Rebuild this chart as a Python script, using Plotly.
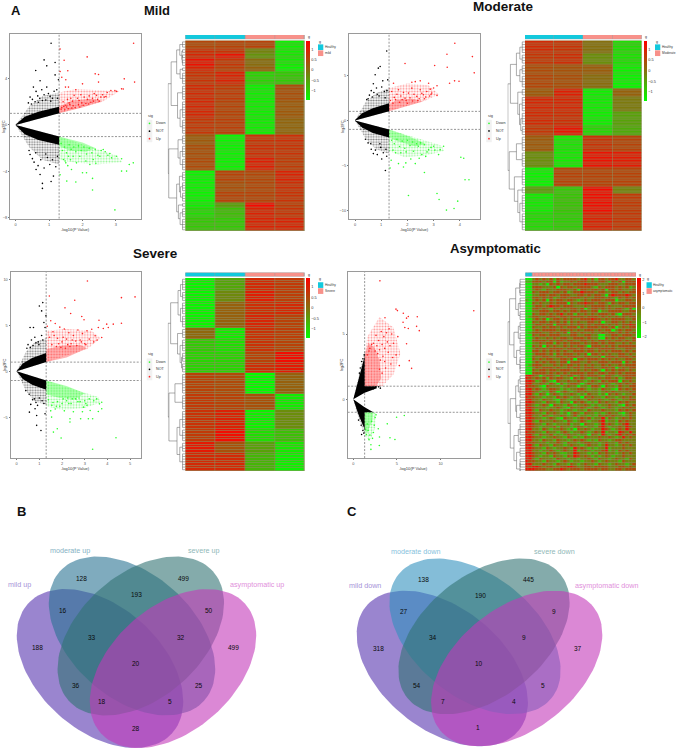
import math
import plotly.graph_objects as go

W, H = 676, 751

# ---------- Venn data ----------
venn_b_labels = ["mild up", "moderate up", "severe up", "asymptomatic up"]
venn_b_values = [188, 128, 499, 499, 16, 193, 50, 33, 32, 20, 36, 25, 18, 5, 28]
venn_c_labels = ["mild down", "moderate down", "severe down", "asymptomatic down"]
venn_c_values = [318, 138, 445, 37, 27, 190, 9, 34, 9, 10, 54, 5, 7, 4, 1]

# ---------- Volcano data ----------
mild_up_x = [3.53,2.14,1.33,1.45,1.56,1.33,2.38,2.48,3.25,3.56,2.48,2.0,1.5,1.38,1.49,1.58,1.8,3.17,3.22,3.02,2.85,2.97,2.74,2.6,2.55,2.42,2.3,2.35,2.2,2.15,2.05,1.95,1.9,1.85,1.75,1.7,1.65,1.6,1.55,1.5,1.42,1.38,2.45,2.65,2.25,2.1,1.98,1.88,1.72,1.62,1.52,1.44,1.36,2.7,2.5,2.33,2.18,2.02,1.92,1.78,1.68,1.58,1.47]
mild_up_y = [7.03,5.86,6.54,5.57,4.66,4.6,4.4,4.34,3.97,3.69,3.69,3.54,3.89,4.11,3.26,3.26,3.03,3.11,3.09,2.89,2.97,2.97,2.8,2.6,2.4,2.55,2.3,2.7,2.5,2.2,2.4,2.6,2.1,2.3,2.55,2.05,2.3,1.9,2.2,1.7,2.0,1.5,2.2,2.4,1.95,1.85,1.9,1.75,1.65,1.75,1.55,1.6,1.35,2.45,2.05,2.05,1.8,1.7,1.55,1.5,1.45,1.4,1.3]
mild_down_x = [2.97,2.3,2.3,1.8,1.53,1.33,3.52,3.4,3.32,3.17,2.12,2.0,1.67,1.5,3.17,3.02,2.82,2.87,2.62,2.52,2.32,2.22,1.92,1.82,1.72,1.58,1.43,1.36,1.4,1.46,1.52,1.6,1.66,1.74,1.8,1.88,1.96,2.04,2.12,2.2,2.28,2.38,2.46,2.56,2.68,2.76,1.48,1.56,1.64,2.1,2.4]
mild_down_y = [-7.31,-5.6,-4.6,-4.91,-4.83,-4.29,-3.26,-3.4,-3.97,-3.97,-4.11,-4.11,-3.83,-3.26,-2.91,-2.69,-2.46,-2.83,-2.11,-2.69,-2.97,-3.4,-2.69,-3.26,-2.69,-2.69,-2.97,-1.6,-2.2,-1.9,-2.4,-1.7,-2.1,-1.9,-2.3,-1.8,-2.2,-1.9,-2.5,-2.0,-2.4,-2.1,-2.6,-2.2,-2.3,-2.6,-3.1,-3.5,-3.0,-3.1,-3.3]
mild_ns_x = [1.06,.85,.93,.6,1.18,.73,.53,.61,.78,.93,1.03,1.18,1.28,1.23,.43,.5,.66,.72,.85,.9,.98,1.1,1.15,.38,.47,.58,.68,.8,1.05,1.25,.8,.8,1.06,.73,.61,1.13,.43,.5,.55,.67,.75,.85,.95,1.02,1.1,1.2,.4,.6,.9,1.25]
mild_ns_y = [7.03,5.6,5.09,4.69,5.37,3.8,3.26,2.89,3.03,3.26,2.46,4.31,3.89,3.03,2.4,2.2,2.5,2.3,2.6,2.15,2.7,2.3,2.9,1.9,1.8,2.0,1.95,2.1,2.05,2.3,-5.46,-5.03,-4.86,-4.26,-3.83,-4.4,-2.54,-2.9,-3.2,-3.5,-3.0,-3.7,-2.8,-3.4,-3.0,-3.6,-2.2,-2.4,-2.5,-2.7]

moderate_up_x = [3.81,4.48,3.51,3.04,3.52,1.91,4.55,3.8,3.97,3.61,2.49,2.17,2.3,2.81,3.13,2.87,3.13,2.93,2.74,2.61,2.49,2.36,2.17,2.04,1.91,1.66,1.47,1.4,1.75,1.85,1.55,1.6,1.95,2.1,2.25,2.45,2.55,2.7,2.85,3.0,1.35,1.45,1.7,2.0,2.2,2.4,2.65,1.5,1.8,2.9]
moderate_up_y = [8.56,7.08,7.34,6.09,5.9,6.31,5.28,4.39,4.35,4.13,4.39,4.24,4.3,4.13,3.84,3.47,2.77,3.03,3.2,2.84,3.4,2.66,3.58,3.03,2.47,3.4,4.13,3.21,2.7,3.1,2.3,2.9,2.2,2.5,2.9,2.4,3.0,2.6,2.7,3.6,2.2,1.9,2.0,1.9,2.15,2.2,2.4,2.55,2.3,2.9]
moderate_down_x = [3.49,3.78,3.92,3.21,3.13,2.04,4.35,4.2,4.04,4.15,2.65,1.34,1.38,1.66,1.85,1.94,2.3,2.13,3.38,3.25,3.19,3.0,2.81,2.55,2.42,2.23,1.4,1.5,1.6,1.7,1.8,1.9,2.0,2.1,2.2,2.35,2.5,2.65,2.75,2.9,3.05,1.45,1.55,1.75,1.95,2.45,2.7]
moderate_down_y = [-9.96,-9.78,-8.97,-8.78,-8.12,-8.34,-6.6,-6.6,-4.1,-4.2,-5.79,-5.28,-4.43,-4.8,-5.17,-4.72,-4.8,-4.28,-2.88,-3.25,-3.8,-2.88,-3.25,-3.8,-2.88,-3.43,-2.2,-2.6,-2.1,-2.9,-2.3,-3.1,-2.2,-2.8,-2.4,-2.6,-2.5,-2.7,-3.5,-3.0,-3.3,-3.3,-3.6,-3.6,-3.5,-4.2,-4.0]
moderate_ns_x = [1.21,.96,.89,.77,1.06,1.25,.7,1.16,1.02,.7,1.21,.45,.55,.62,.72,.82,.92,1.02,1.12,1.22,.5,.66,.85,1.15,.4,.6,.78,.98,1.08,1.18,.5,.85,.95,.62]
moderate_ns_y = [7.71,5.98,5.8,5.06,4.39,4.5,4.06,-5.57,-4.28,-3.69,-3.99,2.3,2.8,3.3,3.1,3.6,2.7,3.7,3.2,3.3,2.4,2.6,2.9,2.5,-2.1,-2.6,-3.3,-3.0,-3.6,-3.2,-2.5,-3.8,-2.6,-3.2]

severe_up_x = [3.12,5.22,4.62,1.44,2.56,2.13,2.38,2.87,2.97,4.62,4.26,3.97,4.04,3.63,3.82,3.6,3.31,3.46,3.75,3.1,2.9,2.7,2.5,2.3,2.1,1.9,1.7,1.5,1.35,1.6,1.8,2.0,2.2,2.4,2.6,2.8,3.0,3.2,3.4,3.55,1.45,1.65,1.85,2.05,2.25,2.45,2.65,2.85,3.05,1.55,1.75,1.95,2.15,2.35]
severe_up_y = [9.82,8.09,8.01,8.19,7.73,6.9,6.28,5.96,5.6,5.23,5.13,5.13,4.77,5.56,4.66,4.77,4.58,3.86,3.68,4.4,4.1,4.5,3.9,4.2,4.6,4.8,5.2,5.5,4.9,4.3,3.6,3.2,3.5,3.0,3.3,3.4,3.0,3.5,3.2,3.4,3.7,3.9,3.0,3.7,2.9,3.4,2.8,3.2,2.9,2.9,2.7,2.6,2.5,2.7]
severe_down_x = [3.35,4.38,1.96,1.62,1.79,1.54,2.35,2.35,2.82,3.16,3.35,3.75,3.6,3.75,3.65,3.53,3.24,3.1,2.9,2.7,2.5,2.3,2.1,1.9,1.7,1.5,1.6,1.8,2.0,2.2,2.4,2.6,2.8,3.0,3.2,3.4,1.4,1.55,1.75,2.05,2.25,2.45,2.75,2.95,3.05]
severe_down_y = [-8.48,-7.22,-7.26,-6.61,-6.25,-4.98,-5.52,-5.16,-5.16,-5.16,-5.16,-4.08,-4.37,-3.36,-3.54,-3.0,-4.26,-3.7,-4.4,-3.3,-4.4,-3.5,-4.3,-3.8,-4.1,-4.3,-3.4,-3.3,-3.5,-3.2,-3.5,-3.0,-3.3,-3.2,-3.0,-3.2,-3.1,-3.7,-3.8,-3.0,-2.9,-3.0,-2.9,-3.9,-3.5]
severe_ns_x = [1.15,1.0,1.1,1.29,.74,.59,1.2,1.25,1.07,.88,.88,.56,.81,1.25,.5,.65,.8,.95,1.1,.45,.6,.72,.85,.98,1.15,.4,.55,.7,.85,1.0,1.2,.62,.78,.92,1.12]
severe_ns_y = [7.47,7.11,6.57,6.03,4.77,4.77,5.3,4.77,-6.43,-5.88,-4.8,-4.44,-4.08,-4.62,2.9,3.4,3.7,3.2,3.9,2.5,2.6,2.8,3.1,2.9,3.4,-2.1,-2.5,-3.1,-3.4,-2.9,-3.5,-3.6,-3.0,-3.7,-3.2]

asym_up_x = [13.8,3.05,4.89,5.05,6.3,6.1,7.33,3.63,5.73,5.7,5.9,6.3,7.25,7.56,6.1,6.41,6.68,5.27,4.4,4.1,3.8,3.5,3.2,2.9,2.6,2.3,4.6,4.2,3.9,3.6,3.3,3.0,2.7,5.1,4.9,4.5,4.0,3.6,3.4,3.1,2.8,2.5,1.9,2.1,1.6,1.8,3.0,3.3,3.7,4.3]
asym_up_y = [6.79,9.08,6.91,6.8,6.35,6.22,6.33,6.25,6.6,5.9,5.5,5.43,5.59,5.26,4.26,2.96,2.37,2.58,5.0,5.4,5.1,4.8,5.2,4.5,4.9,4.3,4.3,4.1,4.4,3.9,4.2,3.8,4.1,4.8,3.4,3.2,3.6,2.9,3.3,3.0,3.5,3.7,3.9,4.2,3.4,3.7,2.3,2.0,2.4,2.7]
asym_down_x = [5.84,4.96,3.89,2.86,4.2,4.77,2.98,2.02,2.02,2.3,1.9,2.4,2.5,1.7,2.2,1.5,1.8,2.1,2.6,1.6,1.4,3.0]
asym_down_y = [-1.25,-1.38,-1.89,-2.27,-2.96,-3.09,-3.55,-3.49,-3.85,-2.55,-2.75,-2.0,-1.4,-2.4,-3.0,-2.7,-3.1,-1.7,-1.2,-1.9,-2.3,-2.9]
asym_ns_x = [.8,.95,1.1,1.2,1.25,.7,1.0,.6,.9,1.1,.95,1.2,2.9,3.1,2.3,2.6]
asym_ns_y = [2.4,2.9,3.1,2.6,3.4,2.0,2.2,-1.6,-2.0,-2.4,-2.7,-2.6,.95,.85,.8,.95]

# dense zones drawn as filled envelopes (x, y): solid core, then thinner halo of dots
mild_ns_core_up = ([0,.27,.68,1.3,1.3,0],[.03,.7,1.14,1.57,1,0])
mild_ns_core_dn = ([0,.27,.68,1.3,1.3,0],[-.03,-.8,-1.3,-1.7,-1,0])
mild_ns_halo_up = ([0,.15,.4,.8,1.3,1.3,0],[0,.6,1.6,2.5,2.8,1,0])
mild_ns_halo_dn = ([0,.15,.4,.8,1.3,1.3,0],[0,-.7,-1.9,-3.0,-3.4,-1,0])
mild_up_core = ([1.3,2.0,2.6,2.3,1.7,1.3],[1,1.5,2.05,2.25,2.1,1.6])
mild_up_halo = ([1.3,2.6,3.1,2.5,1.8,1.3],[1,2.0,2.9,3.0,3.1,2.8])
mild_dn_core = ([1.3,2.0,2.4,2.1,1.6,1.3],[-1,-1.5,-2.0,-2.3,-2.2,-1.8])
mild_dn_halo = ([1.3,3.0,3.2,2.4,1.7,1.3],[-1,-2.6,-3.2,-3.4,-3.2,-3.0])

moderate_ns_core_up = ([0,.27,.68,1.3,1.3,0],[.03,.8,1.35,1.9,1,0])
moderate_ns_core_dn = ([0,.27,.68,1.3,1.3,0],[-.03,-.8,-1.4,-1.9,-1,0])
moderate_ns_halo_up = ([0,.15,.4,.8,1.3,1.3,0],[0,.7,2.0,3.0,3.6,1,0])
moderate_ns_halo_dn = ([0,.15,.4,.8,1.3,1.3,0],[0,-.7,-2.0,-3.2,-3.7,-1,0])
moderate_up_core = ([1.3,2.0,2.6,2.2,1.6,1.3],[1,1.55,2.1,2.4,2.3,1.8])
moderate_up_halo = ([1.3,2.7,3.2,2.8,2.0,1.3],[1,2.2,2.9,3.9,4.1,3.6])
moderate_dn_core = ([1.3,2.0,2.7,2.3,1.6,1.3],[-1,-1.7,-2.6,-2.9,-2.3,-1.9])
moderate_dn_halo = ([1.3,3.3,3.4,2.7,1.9,1.3],[-1,-2.8,-3.4,-3.9,-4.1,-3.4])

severe_ns_core_up = ([0,.27,.68,1.3,1.3,0],[.03,.85,1.45,2.0,1,0])
severe_ns_core_dn = ([0,.27,.68,1.3,1.3,0],[-.03,-.85,-1.45,-2.0,-1,0])
severe_ns_halo_up = ([0,.15,.4,.8,1.3,1.3,0],[0,.8,2.1,3.2,3.6,1,0])
severe_ns_halo_dn = ([0,.15,.4,.8,1.3,1.3,0],[0,-.8,-2.1,-3.3,-3.6,-1,0])
severe_up_core = ([1.3,2.2,3.1,2.8,2.0,1.3],[1,1.5,2.5,2.9,2.8,2.4])
severe_up_halo = ([1.3,3.1,3.7,3.3,2.2,1.3],[1,2.4,3.6,4.4,4.6,4.4])
severe_dn_core = ([1.3,2.2,3.0,2.6,1.9,1.3],[-1,-1.6,-2.4,-3.0,-2.9,-2.5])
severe_dn_halo = ([1.3,3.6,3.7,3.0,2.0,1.3],[-1,-2.8,-3.4,-4.0,-4.2,-3.8])

asym_ns_core_up = ([0,.5,1.3,1.3,2.6,2.7,1.3,0],[0,1.3,3.3,1,1,.85,.5,0])
asym_ns_core_dn = ([0,.6,1.3,1.3,2.3,1.3,0],[0,-1.2,-2.3,-1,-1,-.62,0])
asym_ns_halo_up = ([0,.3,1.0,1.3,1.3,0],[0,.9,3.0,3.7,1,0])
asym_ns_halo_dn = ([0,.4,1.0,1.3,1.3,0],[0,-1.0,-2.2,-2.6,-1,0])
asym_up_core = ([1.3,2.6,3.2,3.0,2.4,1.7,1.3],[1,1,1.6,3.0,4.0,4.3,3.3])
asym_up_halo = ([1.3,3.3,4.6,5.4,4.6,3.0,1.6,1.3],[1,1,1.9,3.5,5.5,6.3,4.8,3.3])
asym_dn_core = ([1.3,2.3,2.2,1.6,1.3],[-1,-1,-1.6,-2.6,-2.4])
asym_dn_halo = ([1.3,2.6,2.5,1.9,1.3],[-1,-1,-2.2,-3.2,-2.8])

# ---------- Heatmap data: (rows, col1, col2, col3, col4) ----------
mild_blocks = [(3,.55,.6,.6,-1.3),(2,.85,.8,-.2,-1.25),(2,.95,1.2,-.35,-1.2),(3,1.2,.75,.05,-1.25),(2,1.0,.65,.2,-1.35),
               (5,.8,1.0,-1.0,-.9),(6,.9,.7,-1.3,.45),(7,.95,.6,-1.3,.3),(6,.75,.65,-1.3,.15),(4,.3,-1.35,.8,.85),
               (5,.45,-1.35,.85,.8),(5,.5,-1.35,1.05,.7),(4,-1.35,.6,.55,1.0),(4,-1.35,.45,.55,.85),(4,-1.35,.6,.6,.8),
               (2,-1.3,-.5,1.3,.7),(4,-1.1,-.8,1.0,.8),(5,-.9,-.9,1.0,1.0)]
moderate_blocks = [(5,.9,.8,.0,-1.1),(4,.75,.85,-.3,-1.15),(4,.5,.4,.25,-1.3),(5,.55,.45,.05,-1.35),(3,.3,1.05,-1.3,.2),
                   (6,.95,.95,-1.3,-.1),(5,.9,.85,-1.3,-.5),(4,.75,1.15,-1.05,-.6),(6,.3,-1.2,.8,.6),(6,-.3,-1.25,1.2,1.1),
                   (7,-1.35,.6,.6,.6),(3,-.5,-.9,1.3,-.2),(7,-1.25,-.85,1.25,.7),(7,-1.1,-.95,1.0,.75)]
severe_blocks = [(5,-1.35,-.55,.9,.7),(4,-1.35,-.25,1.05,.65),(5,-1.35,.2,.85,.9),(5,-1.35,.2,.95,.6),(4,.1,-1.25,.8,.65),
                 (5,-.9,-1.1,.8,.6),(4,-1,-1,.6,1.25),(4,-1,-1,.85,1.1),(8,.6,.5,-1.4,.2),(6,.7,.6,.4,-1.25),
                 (7,.8,1.0,-1.3,-.3),(5,.7,1.25,-1.1,-.8),(4,1.1,.4,-.5,-1.2),(7,.9,.9,-.7,-1.3)]
heat_legends = [("Healthy", "mild"), ("Healthy", "Moderate"), ("Healthy", "Severe"), ("Healthy", "asymptomatic")]
heat_column_groups = [0, 0, 1, 1]

asym_codes = [
"00232323132333323423133233422332","11333233031223233323233213230333","00221203232332333433322233322333",
"00333222303233233332132333232312","00232132233322303323323033232223","00323332332312334333233223323233",
"00223323323332233232332034333432","00332323123323332322333232132323","10232303233233212323332333022332",
"00323223233303233433233213233233","00233234332333222323333232223333","00332321323223323023323232332130",
"00223332332323323323302233332233","00323323234233132323233323103332","01332233323323333233323232323233",
"00232302332323223334332323333223","00323323232313232233230223323232","00233233033323233232333232323343",
"00322323323233313233323323023233","00232333323323232333232330232332","01333223232303323223223233232323",
"00323323332223322332200223323332","00232232323322333232200323233223","00333323233233223323233232332323",
"00223233132323332323323233223232","00323032322323233203332323233333","00232323333233323233233333222332",
"00332323232322333233232323332323","00233323132333232303323232233232","00322332233233322332230333233323",
"00323233223323033233323232322332","00232323323303332232233323330323","01333222323233232323223232232333",
"00232333232232332333223323023233","00323323323332232323320323233232","00333323232323333233233233232333",
]
asym_codes += [
"44320233213233123233321332123333","43232313233220323212232332312332","44312321032232232123213233303232",
"44223213203123320232232321232323","43321032221232202213320322132233","44232123321212233212213221032323",
"44321213202321232322212323222232","44213202321223212132212032321223","43322122132321220323221322123232",
"44221322103212232132232123212233","44322132213220323212132322132322","43212320322132122321212232210323",
"44322212232103223212321232123232","44213223221232122132223222132323","44322132321202321322121232210232",
"44221321223212312212132323221232","44322123210322123231224132123232","44213222322132123212234122132322",
"44322132122231220322124232123422","44321222313221232122134212232432","44221321223212032321224321232422",
"43322132212321223212324122143242","44213223121232212203214212342323","44322122322132121322232232124232",
"44221322132212323212132212332222","43322212232132212332212322132322","44213221322123221232212422123232",
"44322132122321423212122412223222","44221223212322412321223412132322","44322132321122432212132322123232",
"44321221322132432321212321223222","44213222132212212232132212322132","43322132212321221223212322213222",
"44222322132213212322132212322123","43443233223344322332333322233232","44433322334323332333323322332333",
]
asym_code_values = {"0": -2.0, "1": -1.1, "2": -.25, "3": .7, "4": 1.8}

# Dendrogram trees: leaf = block index, node = (height, left, right)
mild_tree = (1.0, (.82, (.5, (.32, 0, (.2, 1, (.18, 2, 3))), (.3, 4, 5)), (.45, 6, (.3, 7, 8))),
             (.96, (.42, 9, (.3, 10, 11)), (.5, (.34, 12, (.28, 13, 14)), (.4, 15, (.3, 16, 17)))))
moderate_tree = (1.0, (.85, (.5, (.3, 0, 1), (.3, 2, 3)), (.42, 4, (.32, 5, (.25, 6, 7)))),
                 (.92, (.5, 8, 9), (.62, 10, (.42, 11, (.3, 12, 13)))))
severe_tree = (1.0, (.85, (.42, (.28, 0, 1), (.28, 2, 3)), (.45, 4, (.3, 5, (.22, 6, 7)))),
               (.95, (.6, 8, 9), (.48, (.32, 10, 11), (.32, 12, 13))))
asym_leaf_rows = [4,3,5,4,4,5,4,3,4,4,5,5,4,5,4,4,4,5]
asym_tree = (1.0, (.9, (.55, (.32, 0, 1), (.4, 2, 3)), (.65, (.4, 4, 5), (.5, 6, (.3, 7, 8)))),
             (.86, (.55, (.4, 9, 10), (.5, 11, 12)), (.65, (.4, 13, 14), (.5, 15, (.3, 16, 17)))))

volcano_ticks = [([0,1,2,3],[4,0,-4,-8]), ([0,1,2,3,4],[5,0,-5,-10]), ([0,1,2,3,4,5],[10,5,0,-5]), ([0,5,10],[5,0])]
sig_levels = ["Down", "NOT", "Up"]
titles = ["Mild", "Moderate", "Severe", "Asymptomatic"]

# ---------- Layout constants ----------
FONT = "Liberation Sans"
fig = go.Figure()
layout = {}
axis_count = [1]

def new_axes(x0, x1, y0, y1, xr, yr, **kw):
    axis_count[0] += 1
    n = axis_count[0]
    sx = str(n)
    base = dict(showgrid=False, zeroline=False, showticklabels=False, ticks="", showline=False)
    xa = dict(base, domain=[x0 / W, x1 / W], range=xr, anchor="y" + sx)
    ya = dict(base, domain=[1 - y1 / H, 1 - y0 / H], range=yr, anchor="x" + sx)
    xa.update(kw.get("xa", {})); ya.update(kw.get("ya", {}))
    layout["xaxis" + sx] = xa
    layout["yaxis" + sx] = ya
    return "x" + sx, "y" + sx

GREEN, RED = "#2bff2b", "#ff2424"
annotations, shapes = [], []

def text(x, y, s, size=4.0, color="#333", anchor="left", angle=0, weight="normal"):
    annotations.append(dict(x=x, y=y, xref="x", yref="y", text=s, showarrow=False, xanchor=anchor, borderpad=0,
                            yanchor="middle", textangle=angle, font=dict(family=FONT, size=size, color=color, weight=weight)))

volcanoes = [
 dict(box=(10,141,34.3,219.3), o=(15.7,125.3), sx=33.4, sy=11.65, up=(mild_up_x,mild_up_y), dn=(mild_down_x,mild_down_y), ns=(mild_ns_x,mild_ns_y),
      polys=[mild_ns_halo_up,mild_ns_halo_dn,mild_ns_core_up,mild_ns_core_dn,mild_up_halo,mild_dn_halo,mild_up_core,mild_dn_core], ly=[116,123.7,131.5,139], lx=149.5, xlab="-log10(P Value)"),
 dict(box=(349,480,34.3,219.3), o=(355,120.7), sx=26.2, sy=9.03, up=(moderate_up_x,moderate_up_y), dn=(moderate_down_x,moderate_down_y), ns=(moderate_ns_x,moderate_ns_y),
      polys=[moderate_ns_halo_up,moderate_ns_halo_dn,moderate_ns_core_up,moderate_ns_core_dn,moderate_up_halo,moderate_dn_halo,moderate_up_core,moderate_dn_core], ly=[116,123.7,131.3,139], lx=489, xlab="-log10(P Value)"),
 dict(box=(10.7,140.7,272.7,459.3), o=(16.7,372.3), sx=22.67, sy=9.22, up=(severe_up_x,severe_up_y), dn=(severe_down_x,severe_down_y), ns=(severe_ns_x,severe_ns_y),
      polys=[severe_ns_halo_up,severe_ns_halo_dn,severe_ns_core_up,severe_ns_core_dn,severe_up_halo,severe_dn_halo,severe_up_core,severe_dn_core], ly=[354,363,370.3,377.7], lx=149.5, xlab="-log10(P Value)"),
 dict(box=(347.7,480,272.7,459.3), o=(353.3,400.3), sx=8.73, sy=13.07, up=(asym_up_x,asym_up_y), dn=(asym_down_x,asym_down_y), ns=(asym_ns_x,asym_ns_y),
      polys=[asym_ns_halo_up,asym_ns_halo_dn,asym_ns_core_up,asym_ns_core_dn,asym_up_halo,asym_dn_halo,asym_up_core,asym_dn_core], ly=[354,363,370.3,377.7], lx=489, xlab="-log10(P Value)"),
]
# (colour, pattern size, pattern solidity); None = flat fill
poly_styles = [("#000000",2.6,.42), ("#000000",2.6,.42), ("#000000",None,None), ("#000000",None,None),
               ("#ff2020",2.8,.33), ("#20f020",2.8,.33), ("#ff2020",1.9,.62), ("#22ff22",1.9,.66)]

for i, v in enumerate(volcanoes):
    x0, x1, y0, y1 = v["box"]
    ox, oy = v["o"]
    xr = [(x0 - ox) / v["sx"], (x1 - ox) / v["sx"]]
    yr = [(oy - y1) / v["sy"], (oy - y0) / v["sy"]]
    tx, ty = volcano_ticks[i]
    ax = dict(showticklabels=True, ticks="outside", ticklen=1, tickwidth=.5, tickcolor="#777", showline=True, mirror=True,
              linecolor="#9a9a9a", linewidth=1.3, tickfont=dict(family=FONT, size=3.9, color="#555"))
    xn, yn = new_axes(x0, x1, y0, y1, xr, yr, xa=dict(ax, tickvals=tx), ya=dict(ax, tickvals=ty))
    for poly, (col, psize, solid) in zip(v["polys"], poly_styles):
        kw = dict(fillcolor=col) if psize is None else dict(fillcolor="rgba(0,0,0,0)", fillpattern=dict(shape=".", size=psize, solidity=solid, fgcolor=col, bgcolor="rgba(0,0,0,0)"))
        fig.add_trace(go.Scatter(x=poly[0], y=poly[1], mode="lines", fill="toself", line=dict(width=0), xaxis=xn, yaxis=yn, hoverinfo="skip", **kw))
    for pts, col in ((v["ns"], "#000"), (v["up"], RED), (v["dn"], GREEN)):
        fig.add_trace(go.Scatter(x=pts[0], y=pts[1], mode="markers", marker=dict(size=1.6, color=col, line=dict(width=0)), xaxis=xn, yaxis=yn, hoverinfo="skip"))
    fig.add_trace(go.Scatter(x=[1.3, 1.3, None, xr[0], xr[1], None, xr[0], xr[1]], y=[yr[0], yr[1], None, 1, 1, None, -1, -1], mode="lines",
                             line=dict(color="rgba(0,0,0,.7)", width=.6, dash="2px,1.5px"), xaxis=xn, yaxis=yn, hoverinfo="skip"))
    lx = v["lx"]; ly = v["ly"]
    shapes.append(dict(type="rect", x0=lx - 2.8, x1=lx + 2.8, y0=ly[1] - 3.6, y1=ly[3] + 3.6, xref="x", yref="y", fillcolor="#f1f1f1", line=dict(width=0), layer="below"))
    text(lx - 2.5, ly[0], "sig", 3.9)
    for lv, yy in zip(sig_levels, ly[1:]):
        text(lx + 5.5, yy, lv, 3.7)
    fig.add_trace(go.Scatter(x=[lx] * 3, y=ly[1:], mode="markers", marker=dict(size=1.7, color=[GREEN, "#000", RED], line=dict(width=0)), xaxis="x", yaxis="y", hoverinfo="skip"))
    text((x0 + x1) / 2, y1 + 10.6, v["xlab"], 4.1, anchor="center")
    text(x0 - 6.5, (y0 + y1) / 2, "log2FC", 3.9, anchor="center", angle=-90)

# ---------- Heatmaps ----------
def expand(blocks):
    rows = []
    for b in blocks:
        rows += [list(b[1:])] * b[0]
    return rows

def dendro(tree, leaf_rows, leaf_h=.16):
    xs, ys = [], []
    starts, s = [], 0
    for r in leaf_rows:
        starts.append(s); s += r
    def walk(node):
        if isinstance(node, int):
            a, n = starts[node], leaf_rows[node]
            for k in range(n):
                xs.extend([0, leaf_h, None]); ys.extend([a + k, a + k, None])
            xs.extend([leaf_h, leaf_h, None]); ys.extend([a, a + n - 1, None])
            return a + (n - 1) / 2, leaf_h
        h, l, r = node
        yl, hl = walk(l); yr, hr = walk(r)
        xs.extend([hl, h, h, hr, None]); ys.extend([yl, yl, yr, yr, None])
        return (yl + yr) / 2, h
    walk(tree)
    return xs, ys

asym_z = [[asym_code_values[c] for c in r[:32].ljust(32, "2")] for r in asym_codes]
heats = [
 dict(z=expand(mild_blocks), rows=[b[0] for b in mild_blocks], tree=mild_tree, box=(185.3,304.7,40.7,231.7), bar=(35,39.3), den=167.7, cb=(306,310,40.7,100), r=1.42, lg=(318,44.5), ticks=[1,.5,0,-.5,-1], gap=.55, leaf=.16),
 dict(z=expand(moderate_blocks), rows=[b[0] for b in moderate_blocks], tree=moderate_tree, box=(525,641.7,40.7,231.7), bar=(35,39.3), den=507.5, cb=(643.7,647,40.7,100.5), r=1.42, lg=(655,44.5), ticks=[1,.5,0,-.5,-1], gap=.55, leaf=.16),
 dict(z=expand(severe_blocks), rows=[b[0] for b in severe_blocks], tree=severe_tree, box=(185.3,304.7,278.7,472.3), bar=(273.3,277.3), den=167.7, cb=(306,310,278.7,338.7), r=1.42, lg=(318,283), ticks=[1,.5,0,-.5,-1], gap=.55, leaf=.16),
 dict(z=asym_z, rows=asym_leaf_rows, tree=asym_tree, box=(525.3,636,278.7,472.3), bar=(273.3,277.3), den=507.5, cb=(637.3,641,278.7,339.3), r=2.1, lg=(646.5,283), ticks=[2,1,0,-1,-2], gap=.35, leaf=.3),
]
scale = [[0, "#00ff00"], [.5, "#86700e"], [1, "#ff0000"]]
cols_groups = [heat_column_groups, heat_column_groups, heat_column_groups, [0, 0] + [1] * 30]

for i, h in enumerate(heats):
    x0, x1, y0, y1 = h["box"]
    nrows, ncols = len(h["z"]), len(h["z"][0])
    xn, yn = new_axes(x0, x1, y0, y1, [-.5, ncols - .5], [nrows - .5, -.5])
    shapes.append(dict(type="rect", x0=x0, x1=x1, y0=y0, y1=y1, xref="x", yref="y", fillcolor="#8f8f60", line=dict(width=0), layer="below"))
    cb = h["cb"]
    fig.add_trace(go.Heatmap(z=h["z"], xaxis=xn, yaxis=yn, zmin=-h["r"], zmax=h["r"], colorscale=scale, xgap=h["gap"], ygap=.55, hoverinfo="skip",
        colorbar=dict(x=cb[0] / W, xanchor="left", xpad=0, ypad=0, y=1 - cb[2] / H, yanchor="top", len=(cb[3] - cb[2]) / H, lenmode="fraction",
                      thickness=cb[1] - cb[0], thicknessmode="pixels", outlinewidth=0, tickvals=h["ticks"], ticks="",
                      tickfont=dict(family=FONT, size=3.9, color="#333"))))
    xb, yb = new_axes(x0, x1, h["bar"][0], h["bar"][1], [-.5, ncols - .5], [-.5, .5])
    shapes.append(dict(type="rect", x0=x0, x1=x1, y0=h["bar"][0], y1=h["bar"][1], xref="x", yref="y", fillcolor="#9a9a9a", line=dict(width=0), layer="below"))
    fig.add_trace(go.Heatmap(z=[cols_groups[i]], xaxis=xb, yaxis=yb, zmin=0, zmax=1, xgap=.4, showscale=False, hoverinfo="skip",
                             colorscale=[[0, "#12c9dd"], [1, "#f8918a"]]))
    xd, yd = new_axes(h["den"], x0, y0, y1, [1.02, 0], [nrows - .5, -.5])
    dx, dy = dendro(h["tree"], h["rows"], h["leaf"])
    fig.add_trace(go.Scatter(x=dx, y=dy, mode="lines", line=dict(color="#5a5a5a", width=.5), xaxis=xd, yaxis=yd, hoverinfo="skip"))
    lx, ly = h["lg"]
    text(lx - 0.5, ly - 2.8, "g", 3.6)
    text(cb[0] + .5, h["bar"][0] + 2.2, "g", 3.6)
    for k, (lab, col) in enumerate(zip(heat_legends[i], ("#12c9dd", "#f8918a"))):
        shapes.append(dict(type="rect", x0=lx, x1=lx + 5.3, y0=ly + k * 6, y1=ly + 5.7 + k * 6, xref="x", yref="y", fillcolor=col, line=dict(width=0)))
        text(lx + 5.7, ly + 2.8 + k * 6, lab, 3.2)

# ---------- Venn ellipses (pixel space overlay) ----------
VENN_COLORS = {"mild": "rgba(87,52,175,.6)", "asym": "rgba(195,57,185,.6)", "modb": "rgba(42,115,147,.6)", "sev": "rgba(50,115,115,.6)", "modc": "rgba(50,145,190,.6)"}
venn_shapes = [
 (100, 670.3, 97, 62.2, 42, "mild"), (132, 637.7, 97, 62.2, 42, "modb"), (140.8, 637.7, 97, 62.2, -42, "sev"), (173, 670.3, 97, 62.2, -42, "asym"),
 (442.3, 670.3, 98.5, 61, 39, "mild"), (475, 638, 98.5, 61, 39, "modc"), (484, 638, 98.5, 61, -39, "sev"), (516.7, 670.3, 98.5, 61, -39, "asym"),
]
for cx, cy, a, b, ang, key in venn_shapes:
    th = math.radians(ang)
    pts = [k * 2 * math.pi / 120 for k in range(121)]
    ex = [cx + a * math.cos(t) * math.cos(th) - b * math.sin(t) * math.sin(th) for t in pts]
    ey = [cy + a * math.cos(t) * math.sin(th) + b * math.sin(t) * math.cos(th) for t in pts]
    fig.add_trace(go.Scatter(x=ex, y=ey, mode="lines", fill="toself", fillcolor=VENN_COLORS[key], line=dict(width=0), xaxis="x", yaxis="y", hoverinfo="skip"))

b_pos = [(37,649.5),(81.5,580.5),(183.5,580.5),(233,649.5),(62.5,612),(136.5,596),(209,612),(91.5,639),(180.5,639),(136,665.5),(75.5,687.5),(198.5,687.5),(102,703.5),(169.5,703.5),(136,730.5)]
c_pos = [(378,650),(423,581.5),(528,581.5),(578,650),(403.5,613),(480,597),(553.5,613),(433,639.5),(524,639.5),(479,665.5),(417,687.5),(542.5,687.5),(443,703),(513.5,703),(478,729)]
for pos, vals in ((b_pos, venn_b_values), (c_pos, venn_c_values)):
    for (x, y), val in zip(pos, vals):
        text(x, y, str(val), 6.5, "#0a0a0a", "center")
b_lab = [(19.5,586,"#a793d8"),(70,551.5,"#86b2c4"),(204,551.5,"#8fb7b7"),(256.5,586,"#df8fdb")]
c_lab = [(364.5,587,"#a793d8"),(416,553,"#86c1dc"),(554,553,"#8fb7b7"),(607,587,"#df8fdb")]
for lab, arr in ((venn_b_labels, b_lab), (venn_c_labels, c_lab)):
    for s, (x, y, c) in zip(lab, arr):
        text(x, y, s, 7.2, c, "center")

# ---------- Titles ----------
for s, (x, y, size) in zip(titles, [(157, 11, 13), (503.5, 6.5, 13.5), (155, 254, 13.5), (495, 249.5, 13.2)]):
    text(x, y, s, size, "#111", "center", weight="bold")
for s, (x, y) in zip("ABC", [(15.5, 11), (21, 513), (352, 513)]):
    text(x, y, s, 13, "#111", "center", weight="bold")

# overlay axis in pixel space (first subplot, so its lower shapes lie under the heatmaps)
layout["xaxis"] = dict(domain=[0, 1], range=[0, W], visible=False, anchor="y", fixedrange=True)
layout["yaxis"] = dict(domain=[0, 1], range=[H, 0], visible=False, anchor="x", fixedrange=True)
fig.update_layout(width=W, height=H, margin=dict(l=0, r=0, t=0, b=0), showlegend=False, paper_bgcolor="white", plot_bgcolor="rgba(0,0,0,0)",
                  annotations=annotations, shapes=shapes, font=dict(family=FONT), **layout)
fig.write_html("out.html", config={"displayModeBar": False}, post_script="document.body.style.margin='0';")
